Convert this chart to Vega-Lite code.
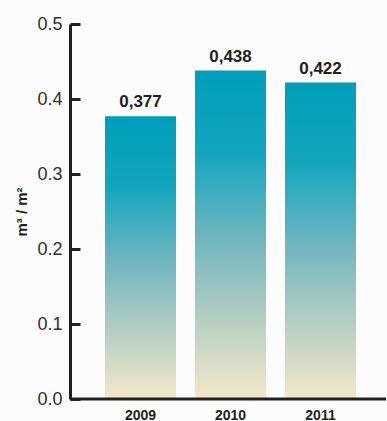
{
  "$schema": "https://vega.github.io/schema/vega-lite/v6.json",
  "width": 316,
  "height": 375,
  "autosize": "none",
  "padding": {"left": 70, "top": 24, "right": 1, "bottom": 22},
  "background": "#fcfcfc",
  "config": {"view": {"stroke": null}, "font": "Liberation Sans"},
  "data": {"values": [
    {"year": "2009", "value": 0.377, "label": "0,377"},
    {"year": "2010", "value": 0.438, "label": "0,438"},
    {"year": "2011", "value": 0.422, "label": "0,422"}
  ]},
  "encoding": {
    "x": {
      "field": "year", "type": "ordinal",
      "scale": {"range": [35, 286], "paddingInner": 0.211, "paddingOuter": 0},
      "axis": {
        "title": null, "domain": false, "ticks": false, "tickSize": 0,
        "labelAngle": 0, "labelFont": "Liberation Sans", "labelFontSize": 14,
        "labelFontWeight": "bold", "labelColor": "#231f20", "labelPadding": 9
      }
    },
    "y": {
      "field": "value", "type": "quantitative",
      "scale": {"domain": [0, 0.5], "nice": false},
      "axis": {
        "title": "m³ / m²", "titleFont": "Liberation Sans", "titleFontSize": 15,
        "titleFontWeight": "bold", "titleColor": "#231f20", "titlePadding": 7,
        "values": [0, 0.1, 0.2, 0.3, 0.4, 0.5], "format": ".1f",
        "grid": false, "domainColor": "#231f20", "domainWidth": 3,
        "tickColor": "#231f20", "tickWidth": 3, "tickSize": -10,
        "labelPadding": 18, "labelFont": "Liberation Sans", "labelFontSize": 18,
        "labelColor": "#2e2e2e"
      }
    }
  },
  "layer": [
    {
      "mark": {
        "type": "bar",
        "color": {
          "gradient": "linear", "x1": 0, "y1": 0, "x2": 0, "y2": 1,
          "stops": [
            {"offset": 0, "color": "#009ebb"},
            {"offset": 0.25, "color": "#12a6be"},
            {"offset": 0.5, "color": "#6cb4be"},
            {"offset": 0.75, "color": "#b2cdc2"},
            {"offset": 1, "color": "#f3e8c8"}
          ]
        }
      }
    },
    {
      "mark": {
        "type": "text", "font": "Liberation Sans", "fontSize": 17,
        "fontWeight": "bold", "color": "#231f20", "baseline": "alphabetic", "dy": -9
      },
      "encoding": {"text": {"field": "label"}}
    },
    {
      "data": {"values": [{"base": 0}]},
      "mark": {"type": "rule", "strokeWidth": 3, "color": "#231f20"},
      "encoding": {"x": null, "y": {"field": "base", "type": "quantitative"}}
    }
  ]
}
